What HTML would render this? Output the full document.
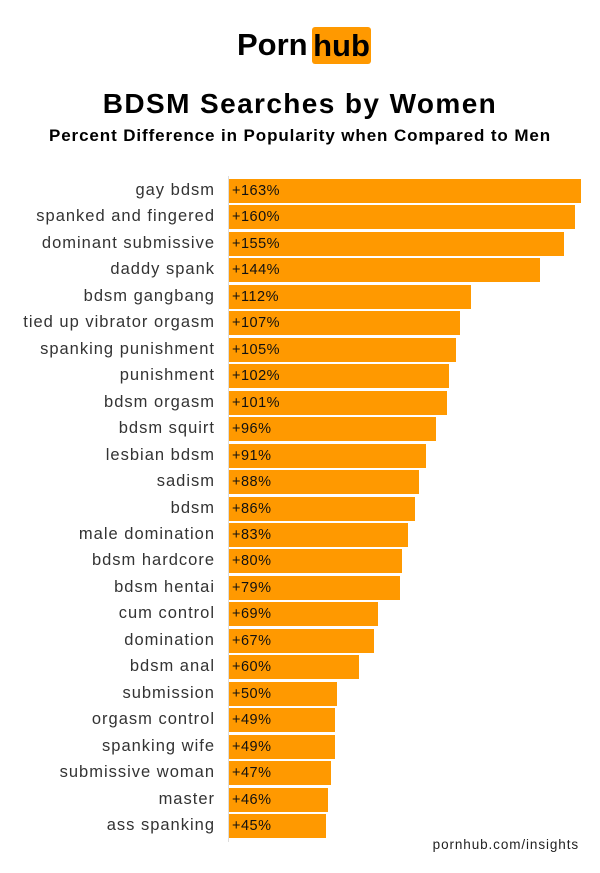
<!DOCTYPE html><html><head><style>
body{margin:0;width:600px;height:873px;background:#fff;font-family:"Liberation Sans",sans-serif;position:relative;overflow:hidden}
.a{position:absolute}
.l{position:absolute;right:385px;font-size:16.5px;letter-spacing:1px;color:#333;white-space:nowrap;line-height:22px}
.b{position:absolute;left:229px;height:24px;background:#ff9900;font-size:14.5px;letter-spacing:.5px;color:#111;line-height:24px;padding-left:3px;box-sizing:border-box}
</style></head><body>
<div class="a" style="left:237px;top:26px;font-size:31px;font-weight:bold;color:#000;line-height:38px">Porn</div>
<div class="a" style="left:312px;top:27px;width:59px;height:37px;background:#ff9900;border-radius:3px;font-size:31px;font-weight:bold;color:#000;line-height:37px;text-align:center">hub</div>
<div class="a" style="left:0;width:600px;top:88px;text-align:center;font-size:28px;letter-spacing:1.4px;font-weight:bold;color:#000">BDSM Searches by Women</div>
<div class="a" style="left:0;width:600px;top:126px;text-align:center;font-size:17px;letter-spacing:.9px;font-weight:bold;color:#000">Percent Difference in Popularity when Compared to Men</div>
<div class="a" style="left:228px;top:176px;width:1px;height:666px;background:#ddd"></div>
<div id="c"></div>
<div class="a" style="right:21px;top:837px;font-size:13.5px;letter-spacing:.9px;color:#222">pornhub.com/insights</div>
<script>
var d=[["gay bdsm",163],["spanked and fingered",160],["dominant submissive",155],["daddy spank",144],["bdsm gangbang",112],["tied up vibrator orgasm",107],["spanking punishment",105],["punishment",102],["bdsm orgasm",101],["bdsm squirt",96],["lesbian bdsm",91],["sadism",88],["bdsm",86],["male domination",83],["bdsm hardcore",80],["bdsm hentai",79],["cum control",69],["domination",67],["bdsm anal",60],["submission",50],["orgasm control",49],["spanking wife",49],["submissive woman",47],["master",46],["ass spanking",45]];
var h="";d.forEach(function(r,i){var y=179+i*26.46;h+='<div class="l" style="top:'+y+'px">'+r[0]+'</div><div class="b" style="top:'+y+'px;width:'+(r[1]*2.16)+'px">+'+r[1]+'%</div>';});
document.getElementById("c").innerHTML=h;
</script></body></html>
